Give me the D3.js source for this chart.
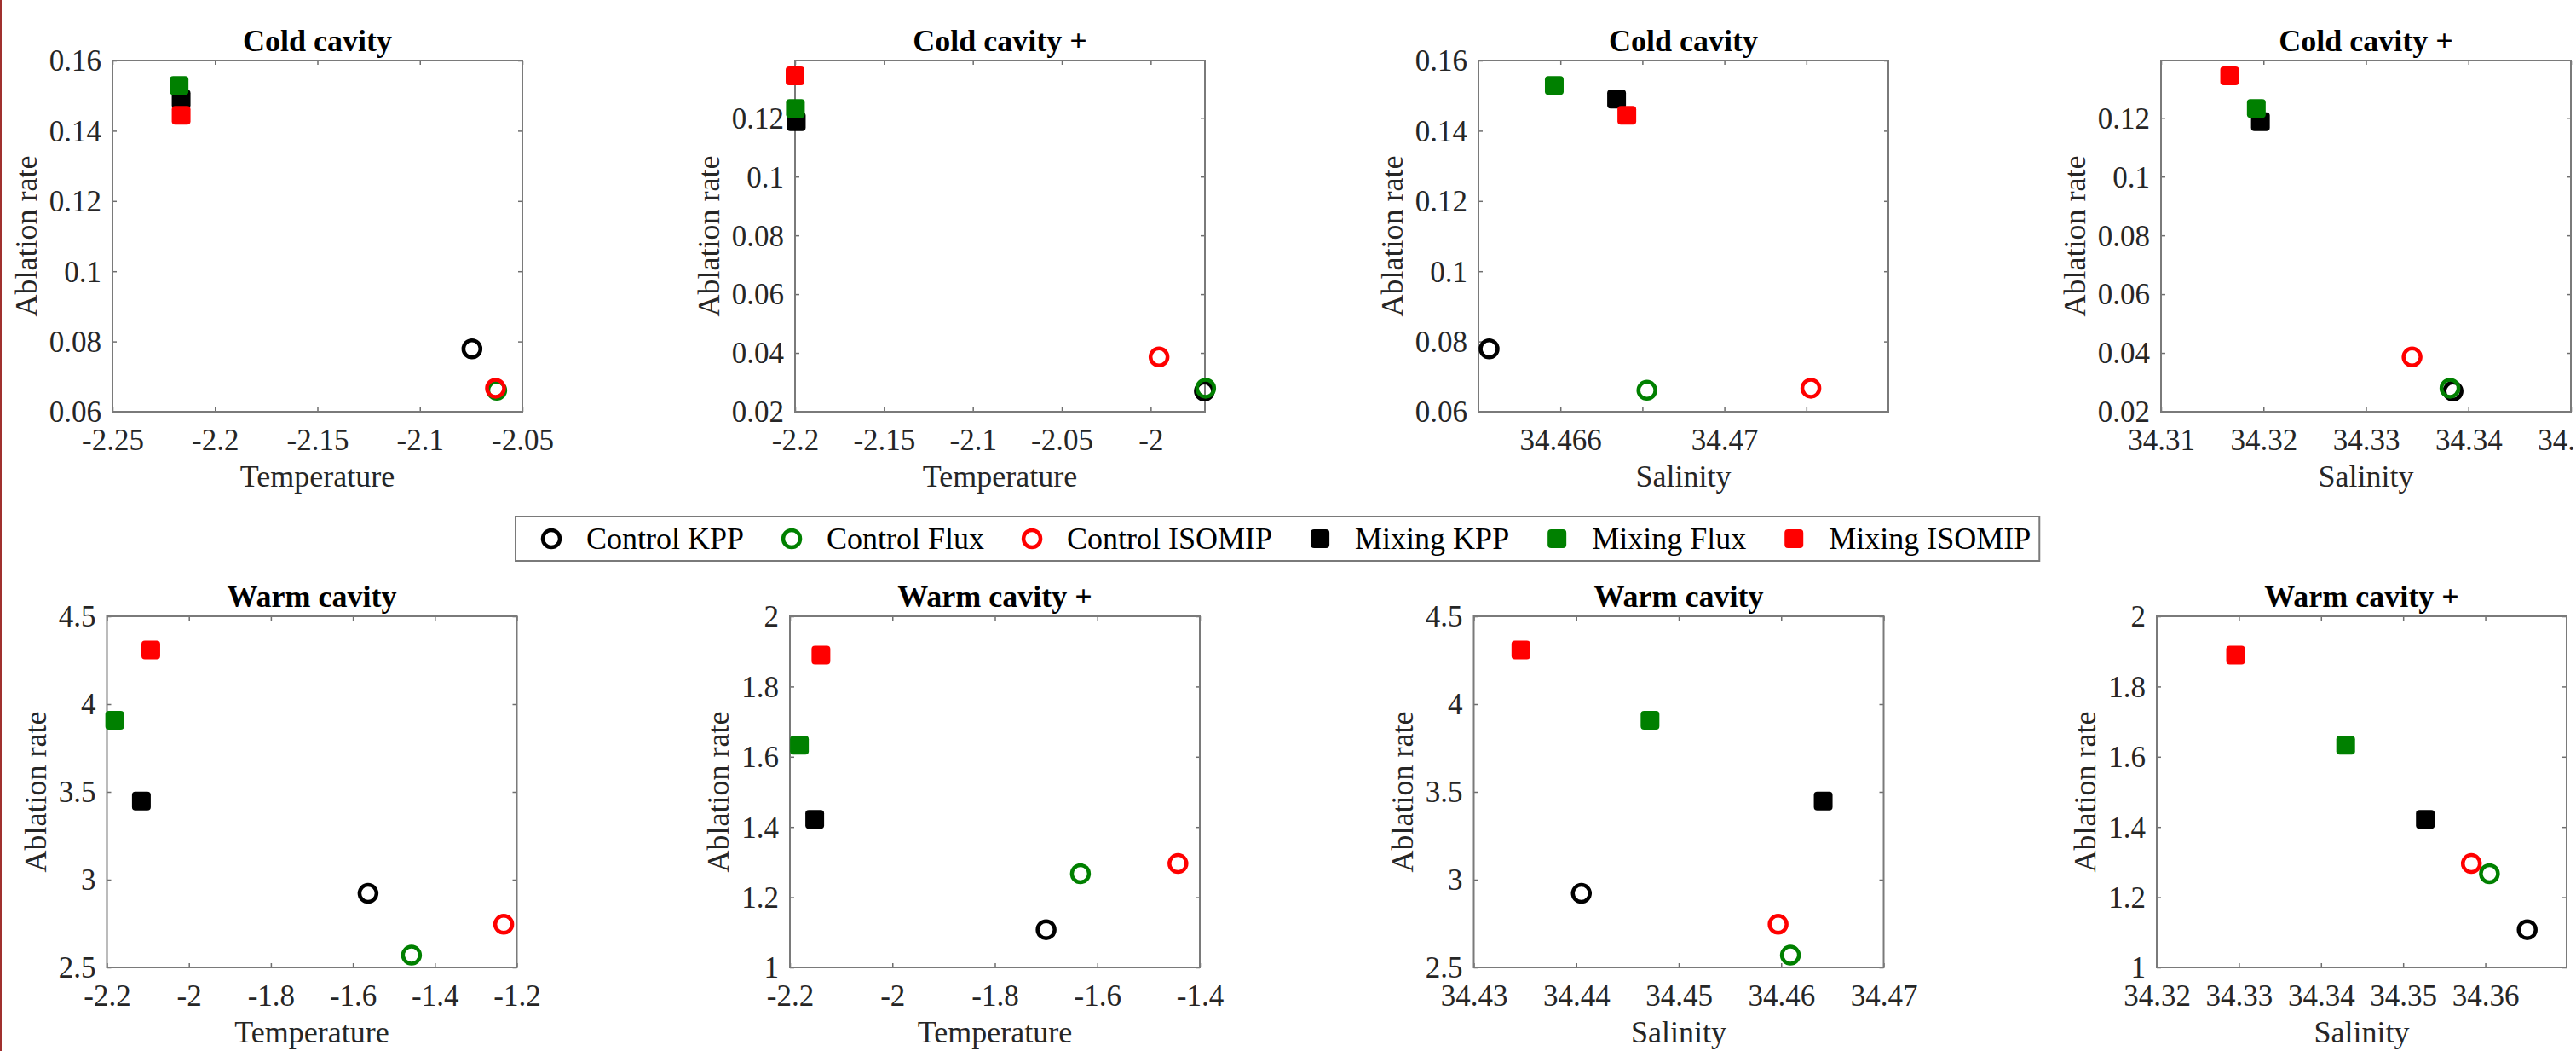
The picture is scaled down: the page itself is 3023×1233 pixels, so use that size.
<!DOCTYPE html>
<html>
<head>
<meta charset="utf-8">
<script src="https://cdn.jsdelivr.net/npm/d3@7"></script>
<style>
  body { margin: 0; background: #fff; }
  text { font-family: "Liberation Serif", "Times New Roman", serif; }
</style>
</head>
<body>
<script>
// series, in drawing order
const series = ["Control KPP", "Control Flux", "Control ISOMIP", "Mixing KPP", "Mixing Flux", "Mixing ISOMIP"];

// cold cavity
const coldTemp = [-2.0746, -2.0625, -2.0631, -2.2165, -2.2175, -2.2165];
const coldSalt = [34.46426, 34.46811, 34.47211, 34.46737, 34.46585, 34.46762];
const coldAbl  = [0.0779, 0.0661, 0.0667, 0.1490, 0.1529, 0.1444];

// cold cavity +
const coldPlusTemp = [-1.9698, -1.9691, -1.9953, -2.1993, -2.1998, -2.2];
const coldPlusSalt = [34.3385, 34.3382, 34.3345, 34.3197, 34.3193, 34.3167];
const coldPlusAbl  = [0.0270, 0.0280, 0.0386, 0.1187, 0.1232, 0.1343];

// warm cavity
const warmTemp = [-1.563, -1.457, -1.232, -2.116, -2.181, -2.093];
const warmSalt = [34.4405, 34.4609, 34.4597, 34.4641, 34.4472, 34.4346];
const warmAbl  = [2.922, 2.570, 2.746, 3.448, 3.908, 4.308];

// warm cavity +
const warmPlusTemp = [-1.700, -1.633, -1.4427, -2.1516, -2.1815, -2.1395];
const warmPlusSalt = [34.3651, 34.3605, 34.3583, 34.3527, 34.3430, 34.3296];
const warmPlusAbl  = [1.1075, 1.267, 1.296, 1.422, 1.633, 1.8895];

// ticks
const coldTempTicks = [-2.25, -2.2, -2.15, -2.1, -2.05];
const coldPlusTempTicks = [-2.2, -2.15, -2.1, -2.05, -2];
const coldSaltTicks = [34.466, 34.468, 34.47, 34.472];
const coldSaltTickLabels = ["34.466", "", "34.47", ""];
const coldPlusSaltTicks = [34.31, 34.32, 34.33, 34.34, 34.35];
const coldAblTicks = [0.06, 0.08, 0.1, 0.12, 0.14, 0.16];
const coldPlusAblTicks = [0.02, 0.04, 0.06, 0.08, 0.1, 0.12];
const warmTempTicks = [-2.2, -2, -1.8, -1.6, -1.4, -1.2];
const warmPlusTempTicks = [-2.2, -2, -1.8, -1.6, -1.4];
const warmSaltTicks = [34.43, 34.44, 34.45, 34.46, 34.47];
const warmPlusSaltTicks = [34.32, 34.33, 34.34, 34.35, 34.36];
const warmAblTicks = [2.5, 3, 3.5, 4, 4.5];
const warmPlusAblTicks = [1, 1.2, 1.4, 1.6, 1.8, 2];

const colors = ["#000000", "#008000", "#ff0000", "#000000", "#008000", "#ff0000"];
const filled = [false, false, false, true, true, true];

const W = 3023, H = 1233;
const plotW = 481, plotH = 412;
const rowTop = [71, 723];
const colLeft = [[132, 933, 1735, 2536], [125.5, 927, 1729.5, 2531]];
const tickFont = 35, labelFont = 36;
const axisGrey = "#262626";

const panels = [
  {title: "Cold cavity", xlab: "Temperature", xs: coldTemp, ys: coldAbl, xDom: [-2.25, -2.05], yDom: [0.06, 0.16], xTicks: coldTempTicks, yTicks: coldAblTicks},
  {title: "Cold cavity +", xlab: "Temperature", xs: coldPlusTemp, ys: coldPlusAbl, xDom: [-2.2, -1.9695], yDom: [0.02, 0.1395], xTicks: coldPlusTempTicks, yTicks: coldPlusAblTicks},
  {title: "Cold cavity", xlab: "Salinity", xs: coldSalt, ys: coldAbl, xDom: [34.464, 34.474], yDom: [0.06, 0.16], xTicks: coldSaltTicks, xTickLabels: coldSaltTickLabels, yTicks: coldAblTicks},
  {title: "Cold cavity +", xlab: "Salinity", xs: coldPlusSalt, ys: coldPlusAbl, xDom: [34.31, 34.35], yDom: [0.02, 0.1395], xTicks: coldPlusSaltTicks, yTicks: coldPlusAblTicks},
  {title: "Warm cavity", xlab: "Temperature", xs: warmTemp, ys: warmAbl, xDom: [-2.2, -1.2], yDom: [2.5, 4.5], xTicks: warmTempTicks, yTicks: warmAblTicks},
  {title: "Warm cavity +", xlab: "Temperature", xs: warmPlusTemp, ys: warmPlusAbl, xDom: [-2.2, -1.4], yDom: [1, 2], xTicks: warmPlusTempTicks, yTicks: warmPlusAblTicks},
  {title: "Warm cavity", xlab: "Salinity", xs: warmSalt, ys: warmAbl, xDom: [34.43, 34.47], yDom: [2.5, 4.5], xTicks: warmSaltTicks, yTicks: warmAblTicks},
  {title: "Warm cavity +", xlab: "Salinity", xs: warmPlusSalt, ys: warmPlusAbl, xDom: [34.32, 34.3699], yDom: [1, 2], xTicks: warmPlusSaltTicks, yTicks: warmPlusAblTicks}
];

const svg = d3.select("body").append("svg")
    .attr("width", W)
    .attr("height", H);

svg.append("rect").attr("width", W).attr("height", H).attr("fill", "#fff");
// thin dark red strip on the left edge of the figure
svg.append("rect").attr("x", 0).attr("y", 0).attr("width", 2).attr("height", H).attr("fill", "#a0302e");

const fmt = d => String(+d.toFixed(4));

function drawMarkers(g, sel) {
  sel.each(function(d) {
    let m = d3.select(this);
    if (filled[d.i]) {
      m.append("rect")
        .attr("x", -11).attr("y", -11)
        .attr("width", 22).attr("height", 22)
        .attr("rx", 4)
        .attr("fill", colors[d.i]);
    } else {
      m.append("circle")
        .attr("r", 10)
        .attr("fill", "none")
        .attr("stroke", colors[d.i])
        .attr("stroke-width", 4.5);
    }
  });
}

panels.forEach((p, k) => {
  let row = Math.floor(k / 4), col = k % 4;
  let left = colLeft[row][col], top = rowTop[row];

  let x = d3.scaleLinear().domain(p.xDom).range([0, plotW]);
  let y = d3.scaleLinear().domain(p.yDom).range([plotH, 0]);

  let g = svg.append("g").attr("transform", `translate(${left},${top})`);

  let xFormat = p.xTickLabels ? (d, i) => p.xTickLabels[i] : fmt;

  // bottom and left axes with labels, ticks pointing inward
  let gx = g.append("g").attr("transform", `translate(0,${plotH})`)
    .call(d3.axisBottom(x).tickValues(p.xTicks).tickFormat(xFormat).tickSize(-5));
  let gy = g.append("g")
    .call(d3.axisLeft(y).tickValues(p.yTicks).tickFormat(fmt).tickSize(-5).tickPadding(13));
  // mirrored ticks on top and right
  g.append("g").call(d3.axisTop(x).tickValues(p.xTicks).tickFormat("").tickSize(-5));
  g.append("g").attr("transform", `translate(${plotW},0)`)
    .call(d3.axisRight(y).tickValues(p.yTicks).tickFormat("").tickSize(-5));

  g.selectAll(".domain").remove();
  g.selectAll(".tick line").attr("stroke", "#6e6e6e").attr("stroke-width", 1.5);
  g.selectAll(".tick text")
    .attr("fill", axisGrey)
    .style("font-size", tickFont + "px")
    .style("font-family", "Liberation Serif");
  gx.selectAll(".tick text").attr("y", 45).attr("dy", null);
  gy.selectAll(".tick text").attr("dy", "0.34em");

  g.append("rect")
    .attr("width", plotW).attr("height", plotH)
    .attr("fill", "none")
    .attr("stroke", "#7a7a7a")
    .attr("stroke-width", 2);

  // title
  g.append("text")
    .attr("x", plotW / 2).attr("y", -11)
    .attr("text-anchor", "middle")
    .style("font-size", labelFont + "px")
    .style("font-weight", "bold")
    .attr("fill", "#000")
    .text(p.title);

  // x label
  g.append("text")
    .attr("x", plotW / 2).attr("y", plotH + 88)
    .attr("text-anchor", "middle")
    .style("font-size", labelFont + "px")
    .attr("fill", axisGrey)
    .text(p.xlab);

  // y label placed just outside the widest tick label
  let maxW = d3.max(gy.selectAll(".tick text").nodes(), n => n.getComputedTextLength());
  let yl = -(13 + maxW + 15);
  g.append("text")
    .attr("transform", `translate(${yl},${plotH / 2}) rotate(-90)`)
    .attr("text-anchor", "middle")
    .style("font-size", labelFont + "px")
    .attr("fill", axisGrey)
    .text("Ablation rate");

  let pts = series.map((s, i) => ({i: i, x: p.xs[i], y: p.ys[i]}));
  let marks = g.append("g").selectAll("g")
    .data(pts)
    .enter()
    .append("g")
    .attr("transform", d => `translate(${x(d.x)},${y(d.y)})`);
  drawMarkers(g, marks);
});

// legend
const legend = svg.append("g");
const legBox = legend.append("rect")
  .attr("x", 605).attr("y", 606)
  .attr("height", 52)
  .attr("fill", "#fff")
  .attr("stroke", "#7a7a7a")
  .attr("stroke-width", 2);

let lx = 647;
const ly = 632;
series.forEach((s, i) => {
  let item = legend.append("g").datum({i: i}).attr("transform", `translate(${lx},${ly})`);
  drawMarkers(legend, item);
  let t = legend.append("text")
    .attr("x", lx + 41).attr("y", ly)
    .attr("dy", "0.34em")
    .style("font-size", labelFont + "px")
    .attr("fill", "#000")
    .text(s);
  let tw = t.node().getComputedTextLength();
  if (i < series.length - 1) {
    lx = lx + 41 + tw + 56;
  } else {
    legBox.attr("width", lx + 41 + tw + 10 - 605);
  }
});
</script>
</body>
</html>
